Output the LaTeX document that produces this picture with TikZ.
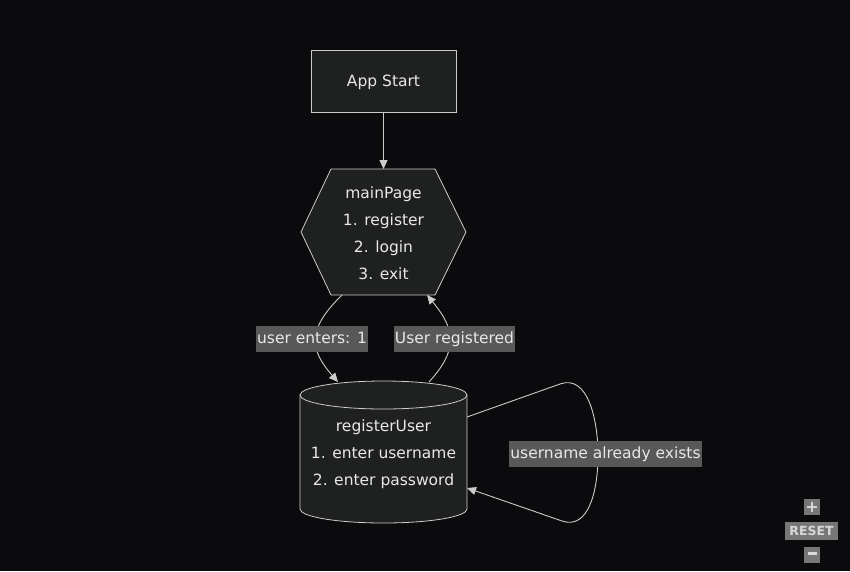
\documentclass[tikz,border=0pt]{standalone}
\usepackage{fontspec}
\setmainfont{DejaVu Sans}
\usetikzlibrary{arrows.meta}
\definecolor{bgc}{HTML}{0B0B0D}
\definecolor{nodefill}{HTML}{1F2020}
\definecolor{nodeline}{HTML}{CCCCCC}
\definecolor{txt}{HTML}{E8E8E8}
\definecolor{lblbg}{HTML}{585858}
\definecolor{btnbg}{HTML}{777777}
\definecolor{btntxt}{HTML}{D8D8D8}
\tikzset{
  shapeline/.style={draw=nodeline, fill=nodefill, line width=0.8pt},
  conn/.style={draw=nodeline, line width=0.9pt, -{Triangle[length=9pt,width=8pt]}},
  nodetext/.style={text=txt, font=\fontsize{15.5}{27}\selectfont, align=center, inner sep=0pt},
  edgelabel/.style={fill=lblbg, text=txt, font=\fontsize{15.5}{19}\selectfont, inner xsep=1pt, inner ysep=0pt, text height=12.5pt, text depth=4pt, minimum height=26pt},
  btn/.style={fill=btnbg, text=btntxt, font=\bfseries\fontsize{12.5}{12.5}\selectfont, inner sep=0pt}
}
\begin{document}
\begin{tikzpicture}[x=1pt,y=1pt]
\fill[bgc] (0,0) rectangle (850,-571);
\useasboundingbox (0,0) rectangle (850,-571);
% App Start
\node[shapeline, minimum width=145pt, minimum height=62pt, inner sep=0pt] (start) at (383.5,-81) {};
\node[nodetext] (starttxt) at (383.5,-82.5) {App Start};
% mainPage hexagon
\coordinate (hL) at (301,-232);
\coordinate (hR) at (466,-232);
\coordinate (hTL) at (331,-169);
\coordinate (hTR) at (435,-169);
\coordinate (hBL) at (331,-295);
\coordinate (hBR) at (435,-295);
\path[shapeline] (hTL) -- (hTR) -- (hR) -- (hBR) -- (hBL) -- (hL) -- cycle;
\node[nodetext] (main) at (383.5,-233) {mainPage\\1. register\\2. login\\3. exit};
\coordinate (mainTop) at (383.5,-169);
\coordinate (mainOutL) at (342,-295);
\coordinate (mainInR) at (427,-295);
% registerUser cylinder
\path[shapeline] (300,-395) -- (300,-509) arc[start angle=180,end angle=360,x radius=83.5,y radius=14] -- (467,-395) arc[start angle=0,end angle=180,x radius=83.5,y radius=14] -- cycle;
\draw[draw=nodeline, line width=0.8pt] (300,-395) arc[start angle=180,end angle=360,x radius=83.5,y radius=14];
\node[nodetext] (reg) at (383.5,-454) {registerUser\\1. enter username\\2. enter password};
\coordinate (regTopL) at (338,-382);
\coordinate (regTopR) at (429,-382);
\coordinate (regOut) at (467,-417);
\coordinate (regIn) at (467,-488);
% connectors
\draw[conn] (start.south) -- (mainTop);
\draw[conn] (mainOutL) .. controls (306,-330) and (310,-350) .. (regTopL);
\draw[conn] (regTopR) .. controls (458,-350) and (456,-330) .. (mainInR);
\draw[conn] (regOut) -- (560,-384) .. controls (588,-374) and (598,-420) .. (598,-455)
  .. controls (598,-492) and (588,-530) .. (562,-521) -- (regIn);
% edge labels
\node[edgelabel] (l1) at (312,-339) {user enters: 1};
\node[edgelabel] (l2) at (454.5,-339) {User registered};
\node[edgelabel] (l3) at (605.5,-454) {username already exists};
% zoom controls
\node[btn, minimum width=16pt, minimum height=16pt, font=\bfseries\fontsize{16}{16}\selectfont] (plus) at (812,-507) {+};
\node[btn, minimum width=53pt, minimum height=18pt] (reset) at (811.5,-531) {RESET};
\node[btn, minimum width=16pt, minimum height=16pt] (minus) at (812,-555) {\rule[3.5pt]{9pt}{2.5pt}};
\end{tikzpicture}
\end{document}
